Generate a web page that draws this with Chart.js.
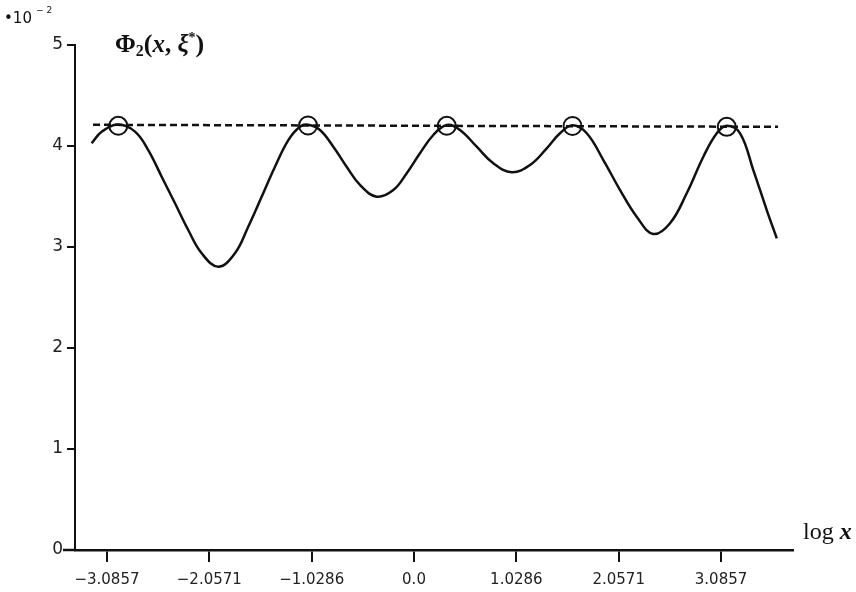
<!DOCTYPE html>
<html>
<head>
<meta charset="utf-8">
<script src="https://cdn.jsdelivr.net/npm/chart.js@4.4.1/dist/chart.umd.min.js"></script>
<style>
  html, body { margin: 0; padding: 0; background: #fff; }
  #wrap { width: 856px; height: 592px; }
</style>
</head>
<body>
<div id="wrap"><canvas id="chart"></canvas></div>
<script>
// curve (log x, value in units of 10^-2)
var curveX = [-3.240, -3.139, -2.972, -2.804, -2.671, -2.536, -2.402, -2.269, -2.134, -1.967,
              -1.799, -1.666, -1.531, -1.397, -1.263, -1.146, -1.065, -0.945, -0.811, -0.677,
              -0.543, -0.375, -0.208, -0.073, 0.060, 0.194, 0.329, 0.462, 0.630, 0.797,
              0.982, 1.166, 1.334, 1.467, 1.593, 1.736, 1.903, 2.071, 2.238, 2.405,
              2.573, 2.741, 2.908, 3.043, 3.143, 3.277, 3.410, 3.545, 3.646];
var curveY = [4.027, 4.142, 4.212, 4.142, 3.960, 3.696, 3.433, 3.168, 2.938, 2.805,
              2.938, 3.201, 3.498, 3.795, 4.059, 4.191, 4.210, 4.158, 3.993, 3.795,
              3.614, 3.498, 3.564, 3.730, 3.928, 4.109, 4.208, 4.158, 3.993, 3.829,
              3.740, 3.812, 3.977, 4.126, 4.205, 4.126, 3.861, 3.564, 3.300, 3.129,
              3.235, 3.532, 3.894, 4.126, 4.200, 4.126, 3.762, 3.366, 3.086];

// the dashed level and the circled maxima
var levelX = [-3.226, 3.659];
var levelY = [4.21, 4.19];
var peakX = [-2.972, -1.065, 0.329, 1.593, 3.143];
var peakY = [4.20, 4.203, 4.20, 4.198, 4.19];

var xTickValues = [-3.0857, -2.0571, -1.0286, 0.0, 1.0286, 2.0571, 3.0857];
var xTickLabels = ['\u22123.0857', '\u22122.0571', '\u22121.0286', '0.0', '1.0286', '2.0571', '3.0857'];
var yTickValues = [0, 1, 2, 3, 4, 5];

function toPoints(xs, ys) {
  var pts = [];
  for (var i = 0; i < xs.length; i++) pts.push({x: xs[i], y: ys[i]});
  return pts;
}

var textPlugin = {
  id: 'texts',
  afterDraw: function(chart) {
    var ctx = chart.ctx;
    var ya = chart.scales.y, xa = chart.scales.x;
    ctx.save();
    ctx.fillStyle = '#111';
    ctx.textBaseline = 'alphabetic';
    ctx.textAlign = 'left';

    // x axis line runs a little past the y axis on the left
    ctx.strokeStyle = '#111';
    ctx.lineWidth = 2.5;
    ctx.beginPath();
    ctx.moveTo(63, ya.getPixelForValue(0));
    ctx.lineTo(xa.left, ya.getPixelForValue(0));
    ctx.stroke();

    // multiplier
    ctx.font = '15px "DejaVu Sans"';
    ctx.fillText('\u202210', 4, 23);
    ctx.font = '9px "DejaVu Sans"';
    ctx.fillText('\u2212 2', 36, 13);

    // title
    var x = 115, base = 52;
    function run(txt, font, dy) {
      ctx.font = font;
      ctx.fillText(txt, x, base + (dy || 0));
      x += ctx.measureText(txt).width;
    }
    run('\u03A6', 'bold 25px "Liberation Serif"');
    run('2', 'bold 16px "Liberation Serif"', 4);
    run('(', 'bold 26px "Liberation Serif"');
    run('x', 'bold italic 25px "Liberation Serif"');
    run(', ', 'bold 25px "Liberation Serif"');
    run('\u03BE', 'bold italic 25px "Liberation Serif"');
    run('*', 'bold 14px "Liberation Serif"', -10);
    run(')', 'bold 26px "Liberation Serif"');

    // axis name
    x = 803; base = 539;
    run('log ', '24px "Liberation Serif"');
    run('x', 'bold italic 24px "Liberation Serif"');
    ctx.restore();
  }
};

new Chart(document.getElementById('chart'), {
  type: 'scatter',
  data: {
    datasets: [
      {
        type: 'line',
        data: toPoints(curveX, curveY),
        borderColor: '#111',
        borderWidth: 2.5,
        pointRadius: 0,
        fill: false,
        tension: 0.4,
        order: 2
      },
      {
        type: 'line',
        data: toPoints(levelX, levelY),
        borderColor: '#111',
        borderWidth: 2.5,
        borderDash: [7, 4],
        pointRadius: 0,
        fill: false,
        order: 3
      },
      {
        data: toPoints(peakX, peakY),
        pointRadius: 9,
        pointBorderWidth: 2,
        pointBorderColor: '#111',
        pointBackgroundColor: 'rgba(0,0,0,0)',
        order: 1
      }
    ]
  },
  options: {
    responsive: true,
    maintainAspectRatio: false,
    animation: false,
    events: [],
    layout: { padding: { top: 45, right: 63, left: 0, bottom: 0 } },
    plugins: { legend: { display: false }, tooltip: { enabled: false } },
    scales: {
      x: {
        type: 'linear',
        min: -3.407,
        max: 3.809,
        afterBuildTicks: function(scale) {
          scale.ticks = xTickValues.map(function(v) { return {value: v}; });
        },
        afterFit: function(scale) { scale.height = 42; },
        ticks: {
          autoSkip: false,
          maxRotation: 0,
          padding: 9,
          color: '#222',
          font: { family: '"DejaVu Sans"', size: 15 },
          callback: function(value, index) { return xTickLabels[index]; }
        },
        grid: { drawOnChartArea: false, tickLength: 12, color: '#111', lineWidth: 2 },
        border: { display: true, color: '#111', width: 2.5 }
      },
      y: {
        type: 'linear',
        min: 0,
        max: 5,
        afterBuildTicks: function(scale) {
          scale.ticks = yTickValues.map(function(v) { return {value: v}; });
        },
        afterFit: function(scale) { scale.width = 75; },
        ticks: {
          padding: 4,
          color: '#222',
          font: { family: '"DejaVu Sans"', size: 17 }
        },
        grid: { drawOnChartArea: false, tickLength: 8, color: '#111', lineWidth: 2 },
        border: { display: true, color: '#111', width: 2 }
      }
    }
  },
  plugins: [textPlugin]
});
</script>
</body>
</html>
